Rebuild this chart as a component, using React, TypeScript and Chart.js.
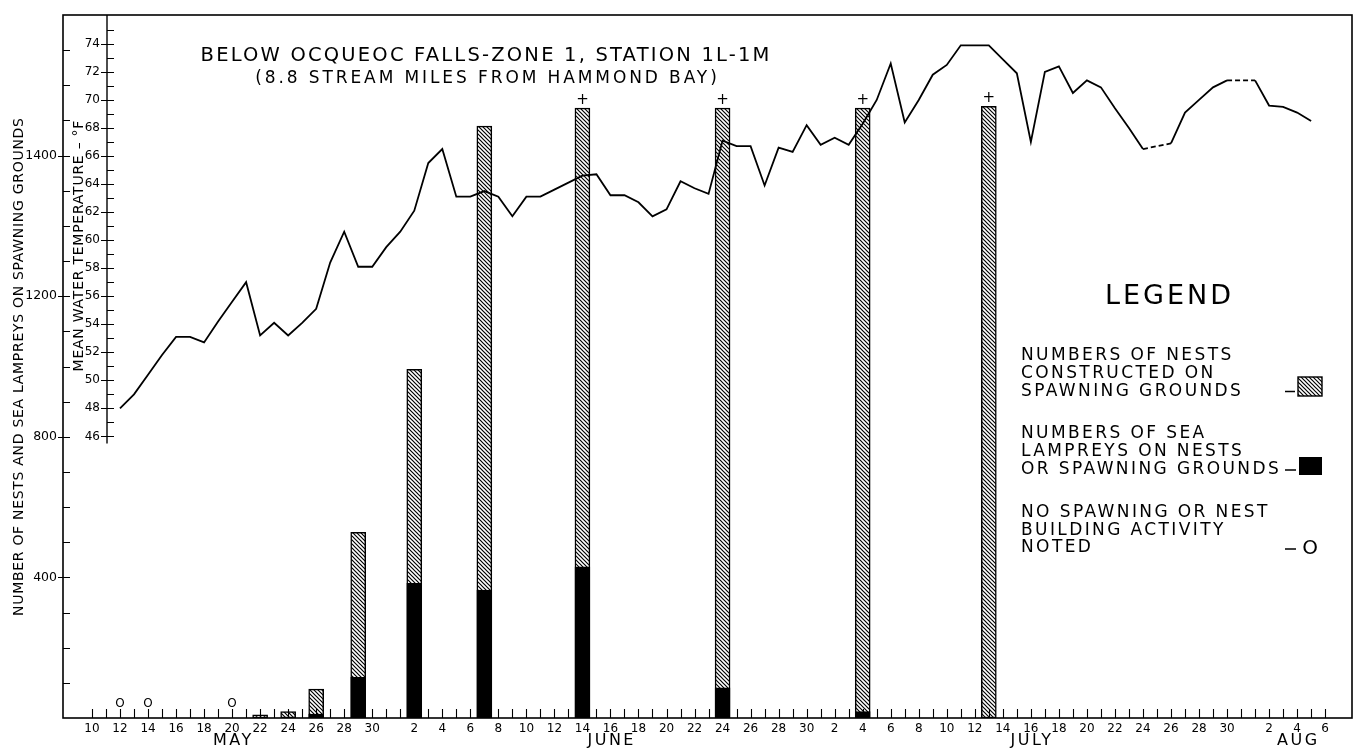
import React, { useEffect, useRef } from 'react';
import { Chart, registerables } from 'chart.js';

Chart.register(...registerables);

// ---------------- data ----------------
const TITLE_LINE_1 = 'BELOW OCQUEOC FALLS-ZONE 1, STATION 1L-1M';
const TITLE_LINE_2 = '(8.8 STREAM MILES FROM HAMMOND BAY)';
const COUNT_AXIS_TITLE = 'NUMBER OF NESTS AND SEA LAMPREYS ON SPAWNING GROUNDS';
const TEMP_AXIS_TITLE = 'MEAN WATER TEMPERATURE – °F';

const BAR_DATES = ['May 22', 'May 24', 'May 26', 'May 29', 'Jun 2', 'Jun 7', 'Jun 14', 'Jun 24', 'Jul 4', 'Jul 13'];
const NESTS = [9, 18, 82, 528, 992, 1684, 1735, 1735, 1735, 1740];
const LAMPREYS = [0, 0, 11, 116, 383, 364, 430, 86, 18, 0];
const OFF_SCALE = [false, false, false, false, false, false, true, true, true, true];
const NO_ACTIVITY_DATES = ['May 12', 'May 14', 'May 20'];

const TEMP_START_DATE = 'May 12';
const TEMP_F: (number | null)[] = [
  // May 12 - May 31
  48.0, 49.0, 50.4, 51.8, 53.1, 53.1, 52.7, 54.2, 55.6, 57.0,
  53.2, 54.1, 53.2, 54.1, 55.1, 58.4, 60.6, 58.1, 58.1, 59.5,
  // June 1 - June 30
  60.6, 62.1, 65.5, 66.5, 63.1, 63.1, 63.5, 63.1, 61.7, 63.1,
  63.1, 63.6, 64.1, 64.6, 64.7, 63.2, 63.2, 62.7, 61.7, 62.2,
  64.2, 63.7, 63.3, 67.1, 66.7, 66.7, 63.9, 66.6, 66.3, 68.2,
  // July 1 - July 31
  66.8, 67.3, 66.8, 68.3, 70.0, 72.6, 68.4, 70.0, 71.8, 72.5,
  73.9, 73.9, 73.9, 72.9, 71.9, 67.0, 72.0, 72.4, 70.5, 71.4,
  70.9, 69.4, 68.0, 66.5, null, 66.9, 69.1, 70.0, 70.9, 71.4,
  null,
  // Aug 1 - Aug 5
  71.4, 69.6, 69.5, 69.1, 68.5,
];

const COUNT_TICK_VALUES = [0, 100, 200, 300, 400, 500, 600, 700, 800, 900, 1000, 1100, 1200, 1300, 1400, 1500, 1600, 1700, 1800, 1900];
// labels as printed on the original axis
const COUNT_TICK_LABELS: Record<number, string> = { 400: '400', 800: '800', 1200: '1200', 1600: '1400' };
const TEMP_TICK_VALUES = [46, 47, 48, 49, 50, 51, 52, 53, 54, 55, 56, 57, 58, 59, 60, 61, 62, 63, 64, 65, 66, 67, 68, 69, 70, 71, 72, 73, 74, 75];
const TEMP_TICK_LABELS = [46, 48, 50, 52, 54, 56, 58, 60, 62, 64, 66, 68, 70, 72, 74];

const FIRST_DATE = 'May 10';
const LAST_DATE = 'Aug 6';
const MONTH_LABELS: [string, string][] = [['May 20', 'MAY'], ['Jun 16', 'JUNE'], ['Jul 16', 'JULY'], ['Aug 4', 'AUG']];

const LEGEND_TITLE = 'LEGEND';
const LEGEND_NESTS = ['NUMBERS OF NESTS', 'CONSTRUCTED ON', 'SPAWNING GROUNDS'];
const LEGEND_LAMPREYS = ['NUMBERS OF SEA', 'LAMPREYS ON NESTS', 'OR SPAWNING GROUNDS'];
const LEGEND_NONE = ['NO SPAWNING OR NEST', 'BUILDING ACTIVITY', 'NOTED'];

// ---------------- helpers ----------------
const MONTH_OFFSET: Record<string, number> = { May: -10, Jun: 21, Jul: 51, Aug: 82 };
function dayIndex(label: string): number {
  const [m, d] = label.split(' ');
  return MONTH_OFFSET[m] + parseInt(d, 10);
}
function dayOfMonth(i: number): number {
  if (i >= 83) return i - 82;
  if (i >= 52) return i - 51;
  if (i >= 22) return i - 21;
  return i + 10;
}

const FAMILY = '"DejaVu Sans", "Liberation Sans", sans-serif';
const X_MIN = -1.55;
const X_MAX = 89.4;
const TEMP_MIN = 25.91;
const TEMP_MAX = 76.06;

function makeHatch(): CanvasPattern | string {
  const c = document.createElement('canvas');
  c.width = 4;
  c.height = 4;
  const g = c.getContext('2d');
  if (!g) return '#888';
  g.fillStyle = '#fff';
  g.fillRect(0, 0, 4, 4);
  g.strokeStyle = '#000';
  g.lineWidth = 1.2;
  g.beginPath();
  g.moveTo(-1, -1); g.lineTo(5, 5);
  g.moveTo(-1, 3); g.lineTo(1, 5);
  g.moveTo(3, -1); g.lineTo(5, 1);
  g.stroke();
  return g.createPattern(c, 'repeat') || '#888';
}

function txt(
  ctx: CanvasRenderingContext2D,
  s: string,
  x: number,
  y: number,
  size: number,
  align: CanvasTextAlign = 'left',
  spacing = 0,
  rotate = 0,
  weight = 'normal',
) {
  ctx.save();
  ctx.font = `${weight} ${size}px ${FAMILY}`;
  (ctx as any).letterSpacing = `${spacing}px`;
  ctx.textAlign = align;
  ctx.textBaseline = 'middle';
  ctx.fillStyle = '#000';
  let dx = 0;
  if (align === 'center') dx = spacing / 2;
  if (rotate) {
    ctx.translate(x, y);
    ctx.rotate(rotate);
    ctx.fillText(s, dx, 0);
  } else {
    ctx.fillText(s, x + dx, y);
  }
  ctx.restore();
}

export default function App() {
  const ref = useRef<HTMLCanvasElement | null>(null);

  useEffect(() => {
    const canvas = ref.current;
    if (!canvas) return;
    const hatch = makeHatch();

    const tickDays: number[] = [];
    for (let d = dayIndex(FIRST_DATE); d <= dayIndex(LAST_DATE); d++) tickDays.push(d);

    const tempStart = dayIndex(TEMP_START_DATE);
    const tempPoints = TEMP_F.map((v, i) => ({ x: tempStart + i, y: v }));
    const nestPoints = BAR_DATES.map((d, i) => ({ x: dayIndex(d), y: NESTS[i] }));
    const lampreyPoints = BAR_DATES.map((d, i) => ({ x: dayIndex(d), y: LAMPREYS[i] })).filter((p) => p.y > 0);

    const decor = {
      id: 'decor',
      afterDraw(chart: any) {
        const { ctx, chartArea: a, scales } = chart;
        const xs = scales.x;
        const ys = scales.y;
        const ts = scales.y1;
        ctx.save();
        ctx.strokeStyle = '#000';
        ctx.fillStyle = '#000';

        // frame
        ctx.lineWidth = 1.6;
        ctx.strokeRect(a.left, a.top, a.right - a.left, a.bottom - a.top);

        // day ticks on x axis (inward)
        ctx.lineWidth = 1.1;
        ctx.beginPath();
        for (const d of tickDays) {
          const px = Math.round(xs.getPixelForValue(d)) + 0.5;
          ctx.moveTo(px, a.bottom);
          ctx.lineTo(px, a.bottom - 9);
        }
        ctx.stroke();

        // count axis ticks
        ctx.beginPath();
        for (const v of COUNT_TICK_VALUES) {
          if (v === 0) continue;
          const py = Math.round(ys.getPixelForValue(v)) + 0.5;
          const labeled = COUNT_TICK_LABELS[v] !== undefined;
          ctx.moveTo(a.left - (labeled ? 5 : 0), py);
          ctx.lineTo(a.left + 7, py);
        }
        ctx.stroke();

        // temperature axis
        const tx = a.left + 44;
        ctx.lineWidth = 1.4;
        ctx.beginPath();
        ctx.moveTo(tx, a.top);
        ctx.lineTo(tx, ts.getPixelForValue(45.5));
        ctx.stroke();
        ctx.lineWidth = 1.1;
        ctx.beginPath();
        for (const v of TEMP_TICK_VALUES) {
          const py = Math.round(ts.getPixelForValue(v)) + 0.5;
          ctx.moveTo(tx, py);
          ctx.lineTo(tx + 7, py);
          if (TEMP_TICK_LABELS.includes(v)) {
            ctx.moveTo(tx - 6, py);
            ctx.lineTo(tx, py);
          }
        }
        ctx.stroke();
        for (const v of TEMP_TICK_LABELS) {
          txt(ctx, String(v), tx - 7, ts.getPixelForValue(v), 12, 'right');
        }

        // axis titles
        txt(ctx, TEMP_AXIS_TITLE, a.left + 16, 246, 14, 'center', 0.75, -Math.PI / 2);
        txt(ctx, COUNT_AXIS_TITLE, 19, 367, 14, 'center', 0.7, -Math.PI / 2);

        // month names
        for (const [d, name] of MONTH_LABELS) {
          txt(ctx, name, xs.getPixelForValue(dayIndex(d)), 741, 16, 'center', 2.5);
        }

        // off-scale markers
        BAR_DATES.forEach((d, i) => {
          if (!OFF_SCALE[i]) return;
          txt(ctx, '+', xs.getPixelForValue(dayIndex(d)), ys.getPixelForValue(NESTS[i]) - 8, 15, 'center');
        });

        // no activity markers
        for (const d of NO_ACTIVITY_DATES) {
          txt(ctx, 'O', xs.getPixelForValue(dayIndex(d)), a.bottom - 14.5, 12, 'center');
        }

        // title
        txt(ctx, TITLE_LINE_1, 485, 56, 19.5, 'center', 2.2);
        txt(ctx, TITLE_LINE_2, 486, 79, 17, 'center', 2.9);

        // legend
        txt(ctx, LEGEND_TITLE, 1168, 297, 27, 'center', 3);
        const lx = 1021;
        const lsize = 17;
        const lsp = 2.4;
        [355.5, 373.5, 391.5].forEach((yy, i) => txt(ctx, LEGEND_NESTS[i], lx, yy, lsize, 'left', lsp));
        [434, 452, 470].forEach((yy, i) => txt(ctx, LEGEND_LAMPREYS[i], lx, yy, lsize, 'left', lsp));
        [513, 531, 548].forEach((yy, i) => txt(ctx, LEGEND_NONE[i], lx, yy, lsize, 'left', lsp));

        ctx.lineWidth = 1.4;
        ctx.beginPath();
        ctx.moveTo(1285, 391.5); ctx.lineTo(1295, 391.5);
        ctx.moveTo(1285, 470); ctx.lineTo(1296, 470);
        ctx.moveTo(1285, 549); ctx.lineTo(1296, 549);
        ctx.stroke();
        ctx.fillStyle = hatch as any;
        ctx.fillRect(1298, 377, 24, 19);
        ctx.strokeRect(1298, 377, 24, 19);
        ctx.fillStyle = '#000';
        ctx.fillRect(1299, 457, 23, 18);
        txt(ctx, 'O', 1310, 549, 20, 'center');

        ctx.restore();
      },
    };

    const chart = new Chart(canvas, {
      type: 'bar',
      data: {
        datasets: [
          {
            type: 'line',
            label: 'Mean water temperature',
            data: tempPoints as any,
            xAxisID: 'x',
            yAxisID: 'y1',
            borderColor: '#000',
            borderWidth: 1.8,
            pointRadius: 0,
            tension: 0,
            spanGaps: true,
            order: 0,
            segment: {
              borderDash: (c: any) => {
                const i0 = c.p0DataIndex;
                const i1 = c.p1DataIndex;
                if (i1 - i0 > 1 || TEMP_F[i0] == null || TEMP_F[i1] == null || c.p0.skip || c.p1.skip) return [5, 3];
                return undefined;
              },
            },
          } as any,
          {
            type: 'bar',
            label: 'Sea lampreys',
            data: lampreyPoints as any,
            xAxisID: 'x',
            yAxisID: 'y',
            backgroundColor: '#000',
            borderColor: '#000',
            borderWidth: 1,
            barThickness: 15,
            grouped: false,
            order: 1,
          } as any,
          {
            type: 'bar',
            label: 'Nests',
            data: nestPoints as any,
            xAxisID: 'x',
            yAxisID: 'y',
            backgroundColor: hatch as any,
            borderColor: '#000',
            borderWidth: 1.5,
            borderSkipped: false,
            barThickness: 15,
            grouped: false,
            order: 2,
          } as any,
        ],
      },
      options: {
        animation: false,
        responsive: false,
        devicePixelRatio: 1,
        events: [],
        layout: { padding: { top: 15, right: 8, bottom: 0, left: 0 } },
        plugins: { legend: { display: false }, tooltip: { enabled: false }, title: { display: false } },
        scales: {
          x: {
            type: 'linear',
            min: X_MIN,
            max: X_MAX,
            grid: { display: false, drawTicks: false },
            border: { display: false },
            afterBuildTicks: (s: any) => {
              s.ticks = tickDays.map((v) => ({ value: v }));
            },
            afterFit: (s: any) => {
              s.height = 32;
            },
            ticks: {
              autoSkip: false,
              maxRotation: 0,
              minRotation: 0,
              padding: 4,
              color: '#000',
              font: { family: FAMILY, size: 12 },
              callback: (v: any) => {
                const dom = dayOfMonth(Number(v));
                return dom % 2 === 0 ? String(dom) : '';
              },
            },
          },
          y: {
            type: 'linear',
            position: 'left',
            min: 0,
            max: 2000,
            grid: { display: false, drawTicks: false },
            border: { display: false },
            afterBuildTicks: (s: any) => {
              s.ticks = COUNT_TICK_VALUES.map((v) => ({ value: v }));
            },
            afterFit: (s: any) => {
              s.width = 63;
            },
            ticks: {
              padding: 6,
              color: '#000',
              font: { family: FAMILY, size: 12.5 },
              callback: (v: any) => COUNT_TICK_LABELS[Number(v)] ?? '',
            },
          },
          y1: {
            type: 'linear',
            display: false,
            min: TEMP_MIN,
            max: TEMP_MAX,
          },
        },
      } as any,
      plugins: [decor],
    });

    return () => chart.destroy();
  }, []);

  return (
    <div style={{ position: 'fixed', left: 0, top: 0, width: 1360, height: 750, background: '#fff' }}>
      <canvas ref={ref} width={1360} height={750} style={{ display: 'block', width: 1360, height: 750 }} />
    </div>
  );
}
